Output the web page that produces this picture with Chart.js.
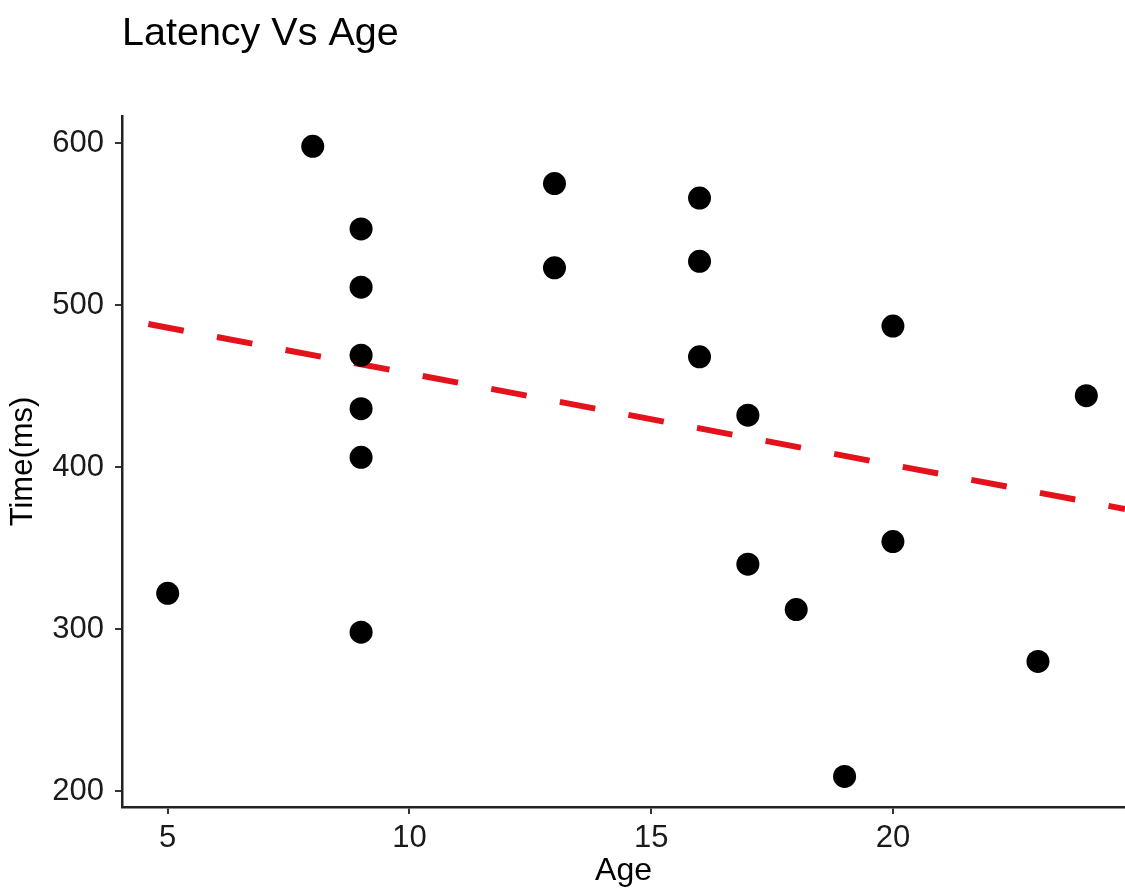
<!DOCTYPE html>
<html>
<head>
<meta charset="utf-8">
<script src="https://cdn.jsdelivr.net/npm/chart.js@4/dist/chart.umd.min.js"></script>
<style>
  html, body { margin: 0; padding: 0; background: #fff; }
  #wrap { width: 1125px; height: 892px; }
</style>
</head>
<body>
<div id="wrap"><canvas id="latencyChart"></canvas></div>
<script>
// Age of each subject and the measured latency
const ages = [5, 8, 9, 9, 9, 9, 9, 9, 13, 13, 16, 16, 16, 17, 17, 18, 19, 20, 20, 23, 24];
const times = [322, 598, 547, 511, 469, 436, 406, 298, 575, 523, 566, 527, 468, 432, 340, 312, 209, 487, 354, 280, 444];

const fitX = [4.6, 24.8];
const fitY = [488.3, 374.1];

const xTicks = [5, 10, 15, 20];
const yTicks = [200, 300, 400, 500, 600];

const FONT = '"Liberation Sans", Arial, Helvetica, sans-serif';

const points = ages.map((a, i) => ({ x: a, y: times[i] }));
const fitLine = fitX.map((x, i) => ({ x: x, y: fitY[i] }));

const ctx = document.getElementById('latencyChart');
// eslint-disable-next-line no-new
new Chart(ctx, {
  type: 'scatter',
  data: {
    datasets: [
      {
        label: 'Latency',
        data: points,
        backgroundColor: '#000',
        borderWidth: 0,
        pointRadius: 11.5,
        pointHoverRadius: 11.5,
      },
      {
        type: 'line',
        label: 'Trend',
        data: fitLine,
        borderColor: '#e3121b',
        borderWidth: 6,
        borderDash: [36, 33.8],
        borderCapStyle: 'butt',
        pointRadius: 0,
        fill: false,
      },
    ],
  },
  options: {
    responsive: true,
    maintainAspectRatio: false,
    animation: false,
    layout: { padding: 0, autoPadding: false },
    plugins: {
      legend: { display: false },
      tooltip: { enabled: false },
      title: {
        display: true,
        text: 'Latency Vs Age',
        align: 'start',
        fullSize: false,
        color: '#000',
        font: { family: FONT, size: 39.5, weight: 'normal', lineHeight: 1.2 },
        padding: { top: 10, bottom: 58.6 },
      },
    },
    scales: {
      x: {
        type: 'linear',
        min: 4.055,
        max: 24.8,
        afterBuildTicks: (scale) => { scale.ticks = xTicks.map((v) => ({ value: v })); },
        afterFit: (scale) => { scale.height = 85; },
        grid: { drawOnChartArea: false, drawTicks: true, tickLength: 7, color: '#333', lineWidth: 2 },
        border: { display: true, color: '#222', width: 2.5 },
        ticks: { color: '#1a1a1a', padding: 6, font: { family: FONT, size: 31 }, maxRotation: 0 },
        title: {
          display: true,
          text: 'Age',
          color: '#000',
          font: { family: FONT, size: 32, lineHeight: 1.2 },
          padding: { top: 0, bottom: 2 },
        },
      },
      y: {
        type: 'linear',
        min: 190.1,
        max: 616.7,
        afterBuildTicks: (scale) => { scale.ticks = yTicks.map((v) => ({ value: v })); },
        afterFit: (scale) => { scale.width = 122; },
        grid: { drawOnChartArea: false, drawTicks: true, tickLength: 7, color: '#333', lineWidth: 2 },
        border: { display: true, color: '#222', width: 2.5 },
        ticks: { color: '#1a1a1a', padding: 11, font: { family: FONT, size: 31 } },
        title: {
          display: true,
          text: 'Time(ms)',
          color: '#000',
          font: { family: FONT, size: 31, lineHeight: 1.2 },
          padding: { top: 5, bottom: 0 },
        },
      },
    },
  },
});
</script>
</body>
</html>
